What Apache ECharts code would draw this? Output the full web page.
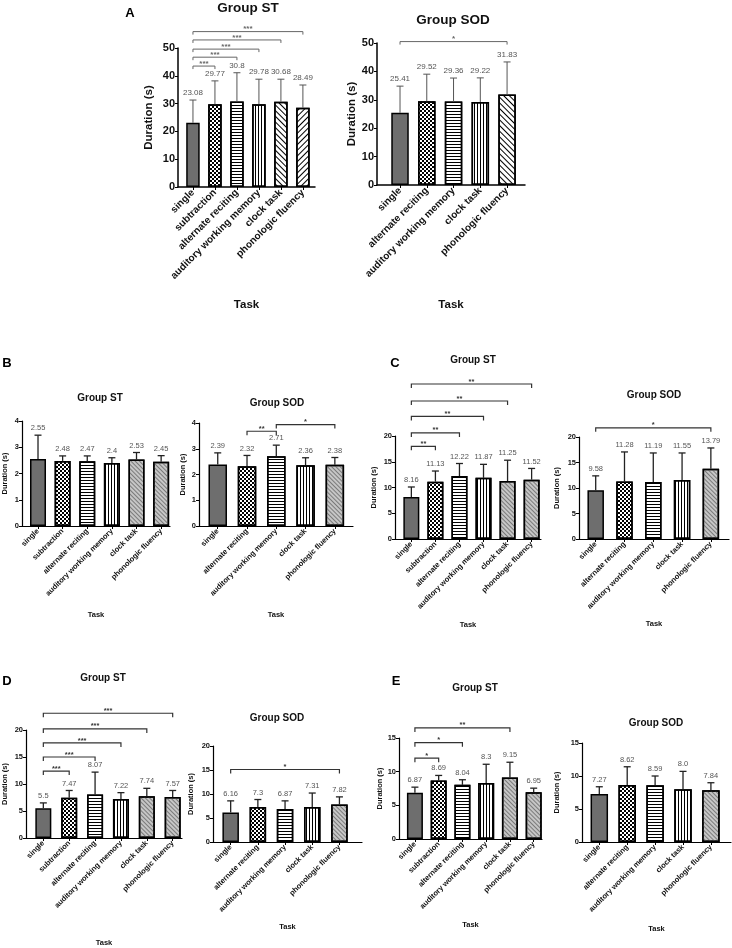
<!DOCTYPE html>
<html><head><meta charset="utf-8">
<script src="https://cdn.jsdelivr.net/npm/echarts@6/dist/echarts.min.js"></script>
<style>html,body{margin:0;padding:0;background:#fff}#c{width:732px;height:948px}</style>
</head><body><div id="c"></div>
<script>
// ---------- categories ----------
const stTasks = ['single','subtraction','alternate reciting','auditory working memory','clock task','phonologic fluency'];
const sodTasks = ['single','alternate reciting','auditory working memory','clock task','phonologic fluency'];

// ---------- A ----------
const aStMean = [23.08, 29.77, 30.8, 29.78, 30.68, 28.49];
const aStSd   = [8.2, 8.4, 10.3, 9.0, 8.1, 8.2];
const aStSig  = [[0,1,43.5],[0,2,46.7],[0,3,49.6],[0,4,52.9],[0,5,55.9]];
const aStSigText = ['***','***','***','***','***'];
const aSodMean = [25.41, 29.52, 29.36, 29.22, 31.83];
const aSodSd   = [9.4, 9.5, 8.3, 8.5, 11.5];
const aSodSig  = [[0,4,50.5]];
const aSodSigText = ['*'];
// ---------- B ----------
const bStMean = [2.55, 2.48, 2.47, 2.4, 2.53, 2.45];
const bStSd   = [0.91, 0.19, 0.2, 0.2, 0.27, 0.23];
const bStSig  = [];
const bStSigText = [];
const bSodMean = [2.39, 2.32, 2.71, 2.36, 2.38];
const bSodSd   = [0.45, 0.42, 0.43, 0.29, 0.28];
const bSodSig  = [[1,2,3.68],[2,4,3.94]];
const bSodSigText = ['**','*'];
// ---------- C ----------
const cStMean = [8.16, 11.13, 12.22, 11.87, 11.25, 11.52];
const cStSd   = [1.94, 2.07, 2.44, 2.63, 4.05, 2.18];
const cStSig  = [[0,1,18.0],[0,2,20.6],[0,3,23.8],[0,4,26.8],[0,5,30.1]];
const cStSigText = ['**','**','**','**','**'];
const cSodMean = [9.58, 11.28, 11.19, 11.55, 13.79];
const cSodSd   = [2.8, 5.79, 5.68, 5.32, 4.06];
const cSodSig  = [[0,4,21.8]];
const cSodSigText = ['*'];
// ---------- D ----------
const dStMean = [5.5, 7.47, 8.07, 7.22, 7.74, 7.57];
const dStSd   = [1.0, 1.33, 4.13, 1.18, 1.46, 1.23];
const dStSig  = [[0,1,12.4],[0,2,15.0],[0,3,17.6],[0,4,20.2],[0,5,23.1]];
const dStSigText = ['***','***','***','***','***'];
const dSodMean = [6.16, 7.3, 6.87, 7.31, 7.82];
const dSodSd   = [2.41, 1.55, 1.7, 2.89, 1.58];
const dSodSig  = [[0,4,15.1]];
const dSodSigText = ['*'];
// ---------- E ----------
const eStMean = [6.87, 8.69, 8.04, 8.3, 9.15, 6.95];
const eStSd   = [0.83, 0.75, 0.76, 2.8, 2.25, 0.6];
const eStSig  = [[0,1,12.0],[0,2,14.3],[0,4,16.5]];
const eStSigText = ['*','*','**'];
const eSodMean = [7.27, 8.62, 8.59, 8.0, 7.84];
const eSodSd   = [1.1, 2.78, 1.41, 2.7, 1.14];
const eSodSig  = [];
const eSodSigText = [];

// ---------- styles ----------
const FF = '"Liberation Sans", Arial, Helvetica, sans-serif';
function dec(o){ return Object.assign({symbol:'rect', symbolSize:1, symbolKeepAspect:false, color:'#000'}, o); }
const pDark   = {color:'#6e6e6e'};
const pCheck  = {color:'#fff', decal: dec({dashArrayX:[[2,2],[0,2,2,0]], dashArrayY:[2,0]})};
const pH      = {color:'#fff', decal: dec({dashArrayX:[1,0], dashArrayY:[1,2]})};
const pV      = {color:'#fff', decal: dec({dashArrayX:[1,2], dashArrayY:[1,0]})};
const pDiagF  = {color:'#fff', decal: dec({dashArrayX:[1,3], dashArrayY:[1,0], rotation:-Math.PI/4})};
const pDiagB  = {color:'#fff', decal: dec({dashArrayX:[1,3], dashArrayY:[1,0], rotation:Math.PI/4})};
const pGray   = {color:'#c6c6c6', decal: dec({color:'#7a7a7a', dashArrayX:[1,1.6], dashArrayY:[1,0], rotation:-Math.PI/4})};

const big = {tick:11, xl:10, name:11.5, title:13.5, val:'8px', valGap:3, sig:'bold 8px '+FF, sigColor:'#666', sigLw:1, sigTick:3, axisLw:1.5, errColor:'#555', errLw:1, cap:3.5, border:1.5};
const small = {tick:7.5, xl:7.5, name:7.5, title:10, val:'7.5px', valGap:3, sig:'bold 7.5px '+FF, sigColor:'#333', sigLw:1.2, sigTick:4, axisLw:1.2, errColor:'#222', errLw:1.3, cap:3.5, border:1.5};

const panels = [
 {tasks:stTasks, mean:aStMean, sd:aStSd, sig:aStSig, sigText:aStSigText, s:big, pats:[pDark,pCheck,pH,pV,pDiagF,pDiagB],
  left:178, top:48, width:137, height:139, xMin:-0.68, xMax:5.55, yMax:50, yInt:10, barW:13.5, title:'Group ST', tx:248, ty:8, taskGap:112, durGap:23},
 {tasks:sodTasks, mean:aSodMean, sd:aSodSd, sig:aSodSig, sigText:aSodSigText, s:big, pats:[pDark,pCheck,pH,pV,pDiagF],
  left:377, top:43, width:148, height:142, xMin:-0.86, xMax:4.67, yMax:50, yInt:10, barW:17.5, title:'Group SOD', tx:453, ty:20, taskGap:114, durGap:19},
 {tasks:stTasks, mean:bStMean, sd:bStSd, sig:bStSig, sigText:bStSigText, s:small, pats:[pDark,pCheck,pH,pV,pGray,pGray],
  left:22, top:421, width:148, height:105, xMin:-0.65, xMax:5.36, yMax:4, yInt:1, barW:16, title:'Group ST', tx:100, ty:398, taskGap:85, durGap:13},
 {tasks:sodTasks, mean:bSodMean, sd:bSodSd, sig:bSodSig, sigText:bSodSigText, s:small, pats:[pDark,pCheck,pH,pV,pGray],
  left:199, top:423, width:154, height:103, xMin:-0.64, xMax:4.62, yMax:4, yInt:1, barW:18.5, title:'Group SOD', tx:277, ty:403, taskGap:85, durGap:12},
 {tasks:stTasks, mean:cStMean, sd:cStSd, sig:cStSig, sigText:cStSigText, s:small, pats:[pDark,pCheck,pH,pV,pGray,pGray],
  left:395, top:436, width:146, height:103, xMin:-0.68, xMax:5.39, yMax:20, yInt:5, barW:16, title:'Group ST', tx:473, ty:360, taskGap:82, durGap:17},
 {tasks:sodTasks, mean:cSodMean, sd:cSodSd, sig:cSodSig, sigText:cSodSigText, s:small, pats:[pDark,pCheck,pH,pV,pGray],
  left:579, top:437, width:150, height:102, xMin:-0.58, xMax:4.63, yMax:20, yInt:5, barW:16.5, title:'Group SOD', tx:654, ty:395, taskGap:81, durGap:18},
 {tasks:stTasks, mean:dStMean, sd:dStSd, sig:dStSig, sigText:dStSigText, s:small, pats:[pDark,pCheck,pH,pV,pGray,pGray],
  left:26, top:730, width:156, height:108, xMin:-0.67, xMax:5.36, yMax:20, yInt:5, barW:16, title:'Group ST', tx:103, ty:678, taskGap:101, durGap:17.5},
 {tasks:sodTasks, mean:dSodMean, sd:dSodSd, sig:dSodSig, sigText:dSodSigText, s:small, pats:[pDark,pCheck,pH,pV,pGray],
  left:213, top:746, width:149, height:96, xMin:-0.65, xMax:4.83, yMax:20, yInt:5, barW:16.5, title:'Group SOD', tx:277, ty:718, taskGap:81, durGap:18},
 {tasks:stTasks, mean:eStMean, sd:eStSd, sig:eStSig, sigText:eStSigText, s:small, pats:[pDark,pCheck,pH,pV,pGray,pGray],
  left:399, top:738, width:143, height:101, xMin:-0.67, xMax:5.35, yMax:15, yInt:5, barW:16, title:'Group ST', tx:475, ty:688, taskGap:82, durGap:15},
 {tasks:sodTasks, mean:eSodMean, sd:eSodSd, sig:eSodSig, sigText:eSodSigText, s:small, pats:[pDark,pCheck,pH,pV,pGray],
  left:582, top:743, width:149, height:99, xMin:-0.62, xMax:4.72, yMax:15, yInt:5, barW:17.5, title:'Group SOD', tx:656, ty:723, taskGap:83, durGap:21}
];

const letters = [['A',130,13],['B',7,363],['C',395,363],['D',7,681],['E',396,681]];

function fmt(v){ return Number.isInteger(v) ? v.toFixed(1) : String(v); }

function errRender(s){
  return function(params, api){
    const x = api.value(0), m = api.value(1), sd = api.value(2);
    const b = api.coord([x, m]), t = api.coord([x, m + sd]);
    const ls = {stroke:s.errColor, lineWidth:s.errLw};
    return {type:'group', children:[
      {type:'line', shape:{x1:b[0], y1:b[1], x2:t[0], y2:t[1]}, style:ls},
      {type:'line', shape:{x1:t[0]-s.cap, y1:t[1], x2:t[0]+s.cap, y2:t[1]}, style:ls},
      {type:'text', x:t[0], y:t[1]-s.valGap, style:{text:fmt(m), fill:'#555', font:s.val+' '+FF, align:'center', verticalAlign:'bottom'}}
    ]};
  };
}
function sigRender(texts, s){
  return function(params, api){
    const a = api.coord([api.value(0), api.value(2)]);
    const b = api.coord([api.value(1), api.value(2)]);
    return {type:'group', children:[
      {type:'polyline', shape:{points:[[a[0],a[1]+s.sigTick],[a[0],a[1]],[b[0],b[1]],[b[0],b[1]+s.sigTick]]},
       style:{stroke:s.sigColor, lineWidth:s.sigLw, fill:null}},
      {type:'text', x:(a[0]+b[0])/2, y:a[1]-2.5, style:{text:texts[params.dataIndex], fill:s.sigColor, font:s.sig, align:'center', verticalAlign:'middle'}}
    ]};
  };
}

const grid = [], xAxis = [], yAxis = [], series = [], graphic = [];
panels.forEach((p, k) => {
  const s = p.s;
  const idx = p.tasks.map((_, i) => i);
  grid.push({left:p.left, top:p.top, width:p.width, height:p.height, containLabel:false, outerBoundsMode:'none'});
  xAxis.push({
    gridIndex:k, type:'value', min:p.xMin, max:p.xMax,
    name:'Task', nameLocation:'middle', nameGap:p.taskGap,
    nameTextStyle:{fontWeight:'bold', fontSize:s.name, color:'#111', fontFamily:FF},
    axisLine:{show:true, onZero:false, lineStyle:{color:'#000', width:s.axisLw}},
    axisTick:{show:true, customValues:idx, length:3, lineStyle:{color:'#000', width:1}},
    axisLabel:{show:true, customValues:idx, rotate:45, margin:4, fontWeight:'bold', fontSize:s.xl, color:'#111', fontFamily:FF,
      formatter:(v) => p.tasks[Math.round(v)]},
    splitLine:{show:false}
  });
  yAxis.push({
    gridIndex:k, type:'value', min:0, max:p.yMax, interval:p.yInt,
    name:'Duration (s)', nameLocation:'middle', nameGap:p.durGap,
    nameTextStyle:{fontWeight:'bold', fontSize:s.name, color:'#111', fontFamily:FF},
    axisLine:{show:true, onZero:false, lineStyle:{color:'#000', width:s.axisLw}},
    axisTick:{show:true, length:3, lineStyle:{color:'#000', width:1}},
    axisLabel:{fontWeight:'bold', fontSize:s.tick, color:'#111', margin:3, fontFamily:FF},
    splitLine:{show:false}
  });
  series.push({
    type:'bar', xAxisIndex:k, yAxisIndex:k, barWidth:p.barW, silent:true, z:2,
    data:p.mean.map((v, i) => ({value:[i, v], itemStyle:Object.assign({borderColor:'#000', borderWidth:s.border}, p.pats[i])}))
  });
  series.push({
    type:'custom', xAxisIndex:k, yAxisIndex:k, silent:true, z:3,
    encode:{x:0, y:1},
    data:p.mean.map((v, i) => [i, v, p.sd[i]]),
    renderItem:errRender(s)
  });
  if (p.sig.length) {
    series.push({
      type:'custom', xAxisIndex:k, yAxisIndex:k, silent:true, z:3, clip:false,
      encode:{x:[0,1], y:2},
      data:p.sig,
      renderItem:sigRender(p.sigText, s)
    });
  }
  graphic.push({type:'text', x:p.tx, y:p.ty, silent:true,
    style:{text:p.title, fill:'#111', font:'bold '+s.title+'px '+FF, align:'center', verticalAlign:'middle'}});
});
letters.forEach(l => graphic.push({type:'text', x:l[1], y:l[2], silent:true,
  style:{text:l[0], fill:'#000', font:'bold 13px '+FF, align:'center', verticalAlign:'middle'}}));

const chart = echarts.init(document.getElementById('c'), null, {renderer:'canvas'});
chart.setOption({
  animation:false,
  backgroundColor:'#fff',
  textStyle:{fontFamily:FF},
  grid, xAxis, yAxis, series, graphic
});
</script>
</body></html>
